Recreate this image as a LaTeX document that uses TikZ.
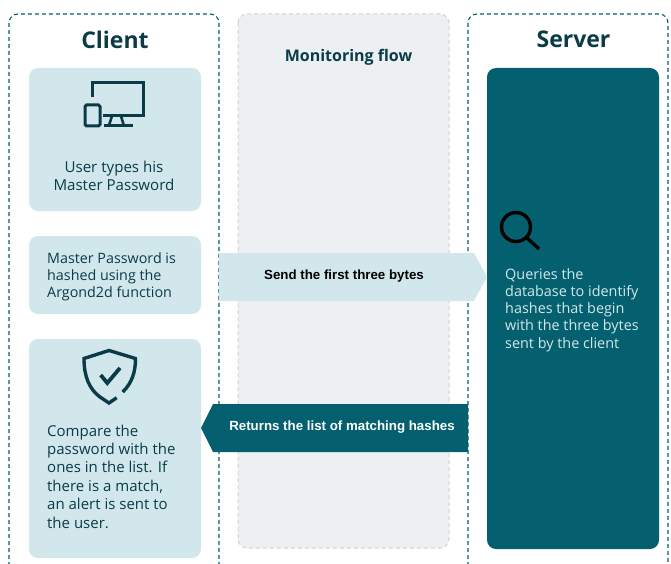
\documentclass[tikz,border=0pt]{standalone}
\usepackage{fontspec}
\setmainfont{Open Sans}
\newfontfamily\arrowfont{Liberation Sans}
\usetikzlibrary{calc}
\definecolor{teal}{HTML}{04606F}
\definecolor{pale}{HTML}{D1E7EC}
\definecolor{ink}{HTML}{0B3B47}
\definecolor{mon}{HTML}{ECF0F3}
\tikzset{
  x=1pt,y=-1pt,
  panel/.style={draw=teal,line width=1.1pt,dash pattern=on 4pt off 3pt,rounded corners=9pt},
  monpanel/.style={draw=black!18,fill=mon,line width=1pt,dash pattern=on 4pt off 3pt,rounded corners=9pt},
  card/.style={fill=pale,rounded corners=9pt},
  head/.style={font=\fontsize{23}{26}\selectfont\bfseries,text=ink,inner sep=0pt},
  body/.style={text=ink,align=left,anchor=north west,inner sep=0pt},
  icon/.style={draw=ink,line width=3pt,line join=miter},
  arrowlabel/.style={font=\arrowfont\fontsize{13.3}{15}\selectfont\bfseries,inner sep=0pt},
}
\begin{document}
\begin{tikzpicture}
\useasboundingbox (0,0) rectangle (671,564);
% panels
\draw[panel] (9,566) -- (9,14) -- (219,14) -- (219,566);
\draw[panel] (468,566) -- (468,14) -- (668,14) -- (668,566);
\draw[monpanel] (238,14) rectangle (449,548);
\node[head] (clienth) at (115,39.5) {Client};
\node[head] (serverh) at (573.5,39.5) {Server};
\node[font=\fontsize{16}{20}\selectfont\bfseries,text=ink,inner sep=0pt] (monh) at (348.5,57) {Monitoring flow};
% cards
\fill[card] (29,68) rectangle (201,211);
\fill[card] (29,236) rectangle (201,314);
\fill[card] (29,339) rectangle (201,558);
\fill[teal,rounded corners=9pt] (487,68) rectangle (659,549);
% arrows
\fill[pale] (219,253) -- (474,253) -- (487,277) -- (474,301) -- (219,301) -- cycle;
\fill[teal] (468,404) -- (213,404) -- (201,428) -- (213,452) -- (468,452) -- cycle;
\node[arrowlabel,text=black] (sendl) at (344,276.5) {Send the first three bytes};
\node[arrowlabel,text=white] (retl) at (342,427.5) {Returns the list of matching hashes};
% text
\node[font=\fontsize{15.1}{17.6}\selectfont,text=ink,align=center,inner sep=0pt] (t1) at (114,176) {User types his\\Master Password};
\node[body,font=\fontsize{14.3}{17}\selectfont] (t2) at (47,252.5) {Master Password is\\hashed using the\\Argond2d function};
\node[body,font=\fontsize{15}{18.4}\selectfont] (t3) at (47,424.5) {Compare the\\password with the\\ones in the list. If\\there is a match,\\an alert is sent to\\the user.};
\node[body,text=pale,font=\fontsize{14.4}{17.25}\selectfont] (t4) at (505,268) {Queries the\\database to identify\\hashes that begin\\with the three bytes\\sent by the client};
% monitor icon
\draw[icon] (92.5,97.5) -- (92.5,82.5) -- (143.5,82.5) -- (143.5,116) -- (103,116);
\draw[icon,rounded corners=1.5pt] (85,105) rectangle (100,126);
\draw[icon,line width=2.6pt] (112,116) -- (108.8,126) (121,116) -- (124,126);
\draw[icon] (104,126) -- (132.5,126);
% shield icon
\draw[icon,line width=3.4pt] (116.7,397.7) -- (109,403) -- (100,397) .. controls (89,389) and (84,376) .. (84,358.5) -- (109,350.5) -- (135.5,358.5) .. controls (135.5,372) and (132,383) .. (122.7,392);
\draw[icon,line width=3.8pt] (100.7,375) -- (107.3,383) -- (120,368);
% magnifier
\draw[black,line width=3.4pt] (516,227) circle (14.5);
\draw[black,line width=3.4pt] (526.5,237.5) -- (539,249);
\end{tikzpicture}
\end{document}
